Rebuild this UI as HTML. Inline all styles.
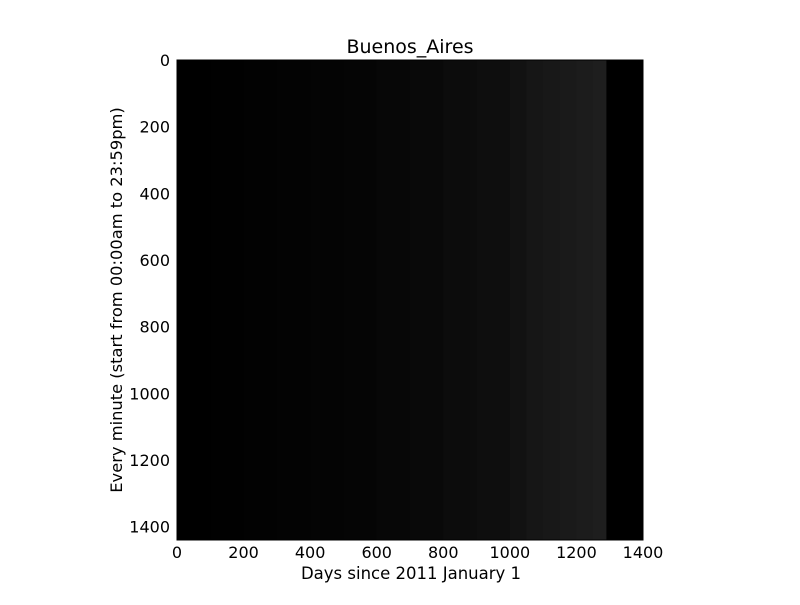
<!DOCTYPE html>
<html><head><meta charset="utf-8"><style>
body{margin:0;background:#fff;}
svg text{font-family:"DejaVu Sans","Liberation Sans",sans-serif;fill:#000;}
</style></head><body>
<svg id="chart" width="800" height="600">
<text x="410" y="53" font-size="19" text-anchor="middle">Buenos_Aires</text>
<g id="cells"></g>
<rect x="177" y="60" width="466" height="480" fill="none" stroke="#000" stroke-width="1"/>
<g id="xticks"></g>
<g id="yticks"></g>
<text x="411" y="579" font-size="16.5" text-anchor="middle">Days since 2011 January 1</text>
<text transform="translate(122,300) rotate(-90)" font-size="16.3" text-anchor="middle">Every minute (start from 00:00am to 23:59pm)</text>
</svg>
<script>
const binStarts=[0,100,200,300,400,500,600,700,800,900,1000,1050,1100,1150,1200,1250,1290];
const binEnds=[100,200,300,400,500,600,700,800,900,1000,1050,1100,1150,1200,1250,1290,1400];
const binIntensity=[0,1,2,3,4,5,7,9,12,14,18,22,24,26,28,30,0];
const xTicks=[0,200,400,600,800,1000,1200,1400];
const yTicks=[0,200,400,600,800,1000,1200,1400];
const X0=177,X1=643,Y0=60,Y1=540,XMAX=1400,YMAX=1440;
const xs=d=>X0+d/XMAX*(X1-X0);
const ys=m=>Y0+m/YMAX*(Y1-Y0);
const NS="http://www.w3.org/2000/svg";
const cells=document.getElementById('cells');
for(let i=0;i<binStarts.length;i++){
  const r=document.createElementNS(NS,'rect');
  
  
  const v=binIntensity[i];
  r.setAttribute('x',xs(binStarts[i]));r.setAttribute('y',ys(0));
  r.setAttribute('width',xs(binEnds[i])-xs(binStarts[i])+0.5);
  r.setAttribute('height',ys(YMAX)-ys(0));
  r.setAttribute('fill',`rgb(${v},${v},${v})`);
  cells.appendChild(r);
}
const xg=document.getElementById('xticks');
xTicks.forEach(t=>{
  const x=xs(t);
  const tx=document.createElementNS(NS,'text');
  
  
  tx.setAttribute('x',x);tx.setAttribute('y',Y1+18);tx.setAttribute('font-size','16');tx.setAttribute('text-anchor','middle');
  tx.textContent=t;xg.appendChild(tx);
});
const yg=document.getElementById('yticks');
yTicks.forEach(t=>{
  const y=ys(t);
  const tx=document.createElementNS(NS,'text');
  
  
  tx.setAttribute('x',X0-7);tx.setAttribute('y',y+6);tx.setAttribute('font-size','16');tx.setAttribute('text-anchor','end');
  tx.textContent=t;yg.appendChild(tx);
});
</script>
</body></html>
